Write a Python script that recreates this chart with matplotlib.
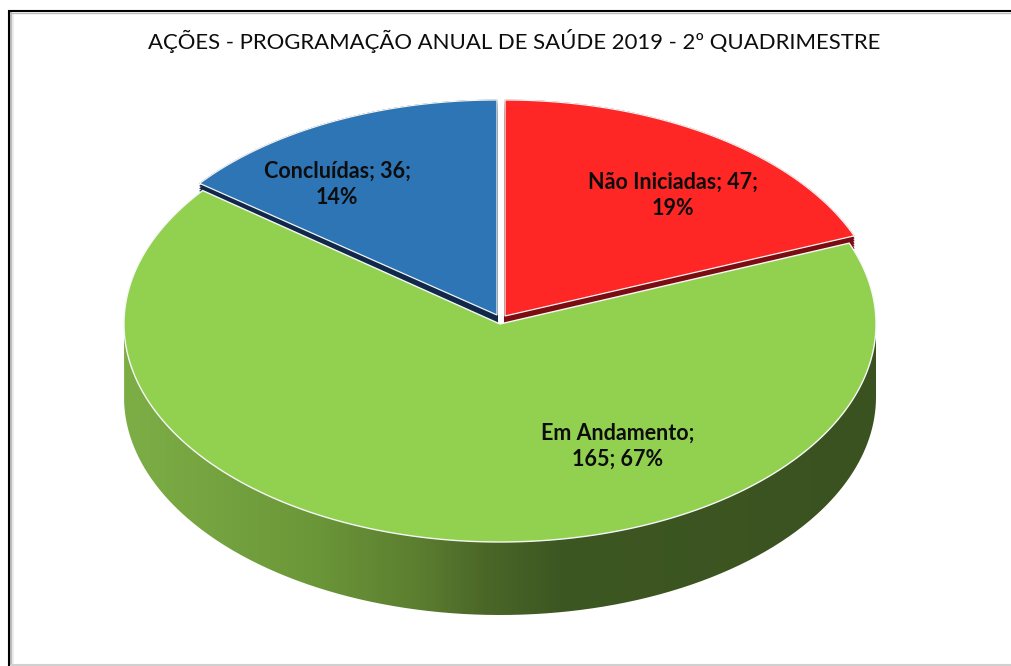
import numpy as np
import matplotlib
matplotlib.use("Agg")
import matplotlib.pyplot as plt
from matplotlib.patches import Polygon, PathPatch
from matplotlib.path import Path
from matplotlib.colors import LinearSegmentedColormap

# --- data ---
categories = ["Não Iniciadas", "Em Andamento", "Concluídas"]
values = [47, 165, 36]
percents = [19, 67, 14]
title = "AÇÕES - PROGRAMAÇÃO ANUAL DE SAÚDE 2019 - 2º QUADRIMESTRE"

# --- style ---
top_colors = ["#FF2626", "#92D050", "#2E75B6"]
side_colors = ["#7A0C12", "#3A5220", "#10284A"]
centers = [(505, 316), (500, 324), (497, 315)]
radii_y = [216, 218, 215]
RX, DEPTH = 376, 73
plt.rcParams["font.family"] = ["Lato", "DejaVu Sans"]

fig = plt.figure(figsize=(10.12, 6.66), dpi=100, facecolor="white")
ax = fig.add_axes([0, 0, 1, 1])
ax.set_xlim(0, 1012)
ax.set_ylim(666, 0)
ax.axis("off")

# frame with soft inner shadow
for off, col, lw in [(3.5, "#ececec", 2), (1.8, "#bdbdbd", 1.5)]:
    ax.plot([9 + off, 9 + off], [11 + off, 664], color=col, lw=lw, zorder=1)
ax.plot([9, 1012], [12.6, 12.6], color="#bdbdbd", lw=1, zorder=1)
ax.plot([9, 1012], [9.6, 9.6], color="#cfcfcf", lw=0.8, zorder=1)
ax.plot([9, 9, 1012], [666, 11, 11], color="black", lw=1.5, zorder=2, solid_joinstyle="miter")
ax.plot([12, 1012], [664.5, 664.5], color="#d0d0d0", lw=1.5, zorder=2)


def wedge_xy(center, ry, a0, a1, n=300):
    t = np.linspace(a0, a1, n)
    x = center[0] + RX * np.sin(t)
    y = center[1] - ry * np.cos(t)
    return np.r_[[center[0]], x], np.r_[[center[1]], y]


fractions = np.array(values) / np.sum(values)
edges = np.r_[0, np.cumsum(fractions)] * 2 * np.pi

# back slices: extruded body, then lid
for i in (0, 2):
    x, y = wedge_xy(centers[i], radii_y[i], edges[i], edges[i + 1])
    for d in np.linspace(0, DEPTH, 30):
        ax.add_patch(Polygon(np.c_[x, y + d], closed=True, fc=side_colors[i], ec=side_colors[i], lw=0.5, zorder=3))
    ax.add_patch(Polygon(np.c_[x, y], closed=True, fc=top_colors[i], ec="#f4f4f4", lw=0.9, zorder=4))

# front slice: side wall with horizontal gradient
cx, cy = centers[1]
ry = radii_y[1]
t = np.linspace(np.pi / 2, 3 * np.pi / 2, 400)
upper = np.c_[cx + RX * np.sin(t), cy - ry * np.cos(t)]
lower = upper[::-1] + [0, DEPTH]
verts = np.r_[upper, lower, upper[:1]]
side = PathPatch(Path(verts), fc="none", ec="none", zorder=5)
ax.add_patch(side)
cmap = LinearSegmentedColormap.from_list(
    "wall", [(0, "#7DAE46"), (0.25, "#6C9739"), (0.40, "#5A7C2F"), (0.48, "#4B6728"), (0.58, "#3D5722"), (1, "#3A5220")]
)
im = ax.imshow(np.linspace(0, 1, 512)[None, :], extent=(cx - RX, cx + RX, cy + ry + DEPTH, cy), cmap=cmap,
               aspect="auto", zorder=5, interpolation="bilinear")
im.set_clip_path(side)
ax.set_xlim(0, 1012)
ax.set_ylim(666, 0)

x, y = wedge_xy(centers[1], ry, edges[1], edges[2], 600)
ax.add_patch(Polygon(np.c_[x, y], closed=True, fc=top_colors[1], ec="#f7f7f7", lw=1.0, zorder=6))

# data labels
label_pos = [(673, 195), (617.5, 446), (337, 184.5)]
label_text = [
    f"{categories[0]}; {values[0]};\n{percents[0]}%",
    f"{categories[1]};\n{values[1]}; {percents[1]}%",
    f"{categories[2]}; {values[2]};\n{percents[2]}%",
]
for (lx, ly), s in zip(label_pos, label_text):
    ax.text(lx, ly, s, ha="center", va="center", fontsize=15.5, fontweight="bold", color="#0d0d0d",
            linespacing=1.3, zorder=8)

ax.text(514.5, 41, title, ha="center", va="center", fontsize=15.9, color="#0d0d0d", zorder=8)

fig.savefig("out.png", dpi=100)
